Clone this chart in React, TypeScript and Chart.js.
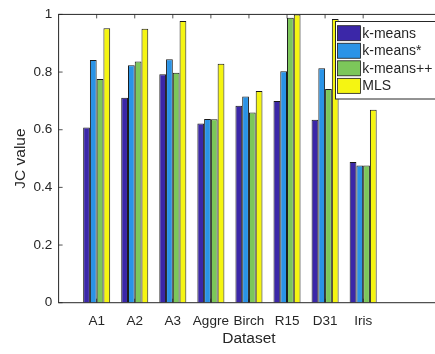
import React, { useEffect, useRef } from 'react';
import { Chart, registerables } from 'chart.js';

Chart.register(...registerables);

// Datasets on the x axis
const categories = ['A1', 'A2', 'A3', 'Aggre', 'Birch', 'R15', 'D31', 'Iris'];

// JC value per method
const kMeans = [0.608, 0.711, 0.792, 0.622, 0.683, 0.7, 0.635, 0.488];
const kMeansStar = [0.842, 0.824, 0.844, 0.637, 0.715, 0.803, 0.813, 0.476];
const kMeansPP = [0.776, 0.837, 0.798, 0.636, 0.66, 0.988, 0.741, 0.476];
const mls = [0.952, 0.95, 0.977, 0.829, 0.734, 1.0, 0.984, 0.669];

const seriesNames = ['k-means', 'k-means*', 'k-means++', 'MLS'];
const seriesColors = ['#3b27a8', '#2a93e6', '#7cc75a', '#f5f512'];

const yTickValues = [0, 0.2, 0.4, 0.6, 0.8, 1];

const FONT = '"Liberation Sans", Arial, Helvetica, sans-serif';
const INK = '#262626';

const CANVAS_W = 450;
const CANVAS_H = 354;
const AREA_LEFT = 58.6;
const AREA_TOP = 10.5;
const AREA_RIGHT = 439.6;
const AREA_BOTTOM = 302.7;

// One empty slot before the first dataset and two after the last one,
// so the x range runs from 0 to 10 with datasets at 1..8.
const slotLabels = ['', ...categories, '', ''];
const padSeries = (v: number[]) => [null, ...v, null, null];

const tickMarks = {
  id: 'tickMarks',
  beforeDatasetsDraw(chart: any) {
    const { ctx, chartArea: a, scales } = chart;
    const len = 4;
    ctx.save();
    ctx.strokeStyle = INK;
    ctx.lineWidth = 0.8;
    ctx.beginPath();
    yTickValues.forEach((v) => {
      const py = scales.y.getPixelForValue(v);
      ctx.moveTo(a.left, py);
      ctx.lineTo(a.left + len, py);
      ctx.moveTo(a.right, py);
      ctx.lineTo(a.right - len, py);
    });
    categories.forEach((_, i) => {
      const px = scales.x.getPixelForValue(i + 1);
      ctx.moveTo(px, a.bottom);
      ctx.lineTo(px, a.bottom - len);
      ctx.moveTo(px, a.top);
      ctx.lineTo(px, a.top + len);
    });
    ctx.stroke();
    ctx.restore();
  },
};

const axesBox = {
  id: 'axesBox',
  afterDatasetsDraw(chart: any) {
    const { ctx, chartArea: a } = chart;
    ctx.save();
    ctx.strokeStyle = INK;
    ctx.lineWidth = 1;
    ctx.strokeRect(a.left, a.top, a.right - a.left, a.bottom - a.top);
    ctx.restore();
  },
};

const boxLegend = {
  id: 'boxLegend',
  afterDraw(chart: any) {
    const { ctx } = chart;
    const bx = 335.5;
    const by = 21.5;
    const bw = 112;
    const bh = 77.5;
    ctx.save();
    ctx.fillStyle = '#ffffff';
    ctx.fillRect(bx, by, bw, bh);
    ctx.strokeStyle = INK;
    ctx.lineWidth = 1;
    ctx.strokeRect(bx, by, bw, bh);
    ctx.font = `14px ${FONT}`;
    ctx.textBaseline = 'middle';
    ctx.textAlign = 'left';
    chart.data.datasets.forEach((ds: any, i: number) => {
      const sy = 25.7 + i * 17.55;
      ctx.fillStyle = ds.backgroundColor;
      ctx.fillRect(337.5, sy, 23, 15);
      ctx.strokeStyle = '#1a1a1a';
      ctx.lineWidth = 0.8;
      ctx.strokeRect(337.5, sy, 23, 15);
      ctx.fillStyle = INK;
      ctx.fillText(ds.label, 362.3, sy + 8);
    });
    ctx.restore();
  },
};

export default function App() {
  const ref = useRef<HTMLCanvasElement>(null);

  useEffect(() => {
    if (!ref.current) return;
    const values = [kMeans, kMeansStar, kMeansPP, mls];
    const chart = new Chart(ref.current, {
      type: 'bar',
      data: {
        labels: slotLabels,
        datasets: values.map((v, i) => ({
          label: seriesNames[i],
          data: padSeries(v),
          backgroundColor: seriesColors[i],
          borderColor: '#1a1a1a',
          borderWidth: 1,
          categoryPercentage: 0.71,
          barPercentage: 1,
        })),
      },
      options: {
        responsive: false,
        animation: false,
        devicePixelRatio: 1,
        layout: {
          padding: { left: 0, top: AREA_TOP, right: CANVAS_W - AREA_RIGHT, bottom: 0 },
        },
        plugins: {
          legend: { display: false },
          tooltip: { enabled: false },
        },
        scales: {
          x: {
            type: 'category',
            offset: false,
            grid: { display: false, drawTicks: false },
            border: { display: false },
            ticks: {
              autoSkip: false,
              maxRotation: 0,
              minRotation: 0,
              padding: 10.7,
              color: INK,
              font: { family: FONT, size: 13.5 },
            },
            title: {
              display: true,
              text: 'Dataset',
              color: INK,
              font: { family: FONT, size: 15.5 },
              padding: { top: 0, bottom: 5.9 },
            },
            afterFit(scale: any) {
              scale.height = CANVAS_H - AREA_BOTTOM;
            },
          },
          y: {
            min: 0,
            max: 1,
            grid: { display: false, drawTicks: false },
            border: { display: false },
            afterBuildTicks(scale: any) {
              scale.ticks = yTickValues.map((value) => ({ value }));
            },
            ticks: {
              padding: 6.3,
              color: INK,
              font: { family: FONT, size: 13.5 },
              callback: (v: any) => String(Number(Number(v).toFixed(2))),
            },
            title: {
              display: true,
              text: 'JC value',
              color: INK,
              font: { family: FONT, size: 15.5 },
              padding: { top: 11.4, bottom: 0 },
            },
            afterFit(scale: any) {
              scale.width = AREA_LEFT;
            },
          },
        },
      },
      plugins: [tickMarks, axesBox, boxLegend],
    });
    return () => chart.destroy();
  }, []);

  return (
    <div
      style={{
        position: 'absolute',
        left: 0,
        top: 0,
        width: 435,
        height: 354,
        overflow: 'hidden',
        background: '#ffffff',
      }}
    >
      <canvas
        ref={ref}
        width={CANVAS_W}
        height={CANVAS_H}
        style={{ width: CANVAS_W, height: CANVAS_H, display: 'block' }}
      />
    </div>
  );
}
